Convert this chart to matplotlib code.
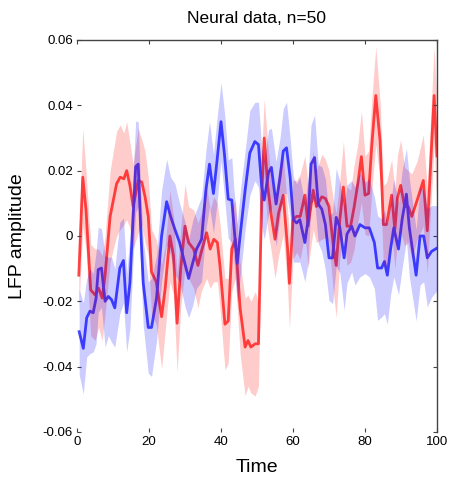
import matplotlib
matplotlib.use("Agg")
import matplotlib.pyplot as plt
import numpy as np

plt.rcParams['font.family'] = ['Liberation Sans', 'DejaVu Sans']

title = "Neural data, n=50"
xlabel = "Time"
ylabel = "LFP amplitude"
xticks = [0, 20, 40, 60, 80, 100]
yticks = [-0.06, -0.04, -0.02, 0, 0.02, 0.04, 0.06]
yticklabels = ["-0.06", "-0.04", "-0.02", "0", "0.02", "0.04", "0.06"]

red_t = [0.5, 1.6, 2.5, 3.8, 5, 6, 7, 7.8, 9.2, 11,
         12, 13, 13.8, 14.7, 15.6, 17, 18, 18.9, 19.8, 20.7,
         22, 23.5, 24.5, 25.8, 26.8, 27.8, 28.8, 30, 31, 32.4,
         33.6, 34.5, 36, 37, 38, 39, 39.7, 41.1, 42, 43,
         44, 45.3, 46.7, 47.5, 48.3, 49.5, 50.4, 51.3, 52, 53,
         54, 55, 56, 57.3, 58.5, 59, 60, 61, 62, 63.3,
         64.2, 65.6, 66.5, 68, 69, 70, 71.2, 72, 73, 74,
         75, 76, 77, 78, 79, 80, 81, 81.9, 83, 84.2,
         85.1, 86, 87.4, 88.3, 89, 89.9, 91, 92, 93, 94.5,
         96.2, 97.3, 99.2, 100]
red_y = [-0.012, 0.018, 0.008, -0.0165, -0.018, -0.016, -0.019, -0.012, 0.006, 0.016,
         0.018, 0.0175, 0.020, 0.0155, 0.009, 0.017, 0.0165, 0.012, 0.006, -0.011,
         -0.014, -0.0247, -0.016, 0.0, -0.006, -0.0267, -0.010, 0.003, -0.002, -0.004,
         -0.009, -0.005, 0.001, -0.004, -0.001, -0.002, -0.009, -0.027, -0.026, -0.004,
         -0.001, -0.022, -0.034, -0.032, -0.034, -0.033, -0.033, 0.012, 0.030, 0.015,
         0.006, -0.001, 0.007, 0.0125, -0.004, -0.0145, 0.005, 0.006, 0.006, 0.0125,
         0.003, 0.014, 0.009, 0.012, 0.0115, 0.009, -0.003, -0.009, 0.005, 0.015,
         0.003, 0.003, 0.009, 0.016, 0.0243, 0.0125, 0.013, 0.028, 0.043, 0.029,
         0.0035, 0.0035, 0.0125, 0.002, 0.0116, 0.0155, 0.009, 0.009, 0.006, 0.011,
         0.017, 0.0016, 0.043, 0.0245]
red_err = [0.011, 0.015, 0.012, 0.014, 0.014, 0.012, 0.013, 0.012, 0.014, 0.016,
           0.016, 0.014, 0.015, 0.013, 0.013, 0.016, 0.013, 0.014, 0.012, 0.013,
           0.013, 0.016, 0.013, 0.014, 0.012, 0.015, 0.012, 0.013, 0.011, 0.012,
           0.013, 0.012, 0.014, 0.012, 0.013, 0.012, 0.013, 0.014, 0.013, 0.013,
           0.012, 0.014, 0.015, 0.014, 0.014, 0.016, 0.013, 0.013, 0.012, 0.013,
           0.011, 0.012, 0.013, 0.012, 0.012, 0.014, 0.012, 0.011, 0.013, 0.012,
           0.013, 0.012, 0.011, 0.013, 0.012, 0.011, 0.014, 0.016, 0.012, 0.014,
           0.012, 0.011, 0.013, 0.012, 0.014, 0.012, 0.013, 0.014, 0.015, 0.012,
           0.012, 0.013, 0.011, 0.012, 0.013, 0.014, 0.012, 0.011, 0.013, 0.012,
           0.014, 0.013, 0.015, 0.016]

blue_t = [0.6, 1.75, 2.7, 3.6, 4.5, 5.3, 5.9, 6.8, 7.8, 8.7,
          9.6, 10.5, 11.9, 12.9, 13.8, 14.7, 15.6, 16.3, 17, 17.7,
          18.4, 19.8, 20.7, 22.1, 23.5, 24.9, 26, 27.2, 28.5, 30,
          31, 32.2, 33.2, 34.6, 35.8, 36.8, 37.9, 38.8, 40, 41,
          42, 43, 43.6, 44.5, 45.5, 46.7, 48, 49.4, 50.4, 51.3,
          52, 53.2, 54, 55.3, 56.4, 57.3, 58.2, 59.2, 60.1, 61,
          61.9, 63.3, 64.2, 65, 66, 67, 68, 69, 70, 71,
          72, 73, 74.2, 75, 76.3, 77.2, 78.6, 80, 81.2, 82.6,
          83.5, 84.6, 85.4, 86.2, 87.1, 88, 89.3, 90.3, 91.5, 92.3,
          94.2, 95.3, 96.3, 97.3, 98.5, 100]
blue_y = [-0.0293, -0.0344, -0.025, -0.023, -0.0235, -0.019, -0.0103, -0.0098, -0.020, -0.0185,
          -0.0195, -0.022, -0.0098, -0.0075, -0.0235, -0.0144, 0.006, 0.0212, 0.022, 0.002,
          -0.0144, -0.028, -0.028, -0.019, 0.0, 0.0105, 0.006, 0.002, -0.002, -0.0086,
          -0.013, -0.008, -0.004, -0.001, 0.014, 0.022, 0.013, 0.022, 0.035, 0.0245,
          0.0113, 0.011, 0.003, -0.0084, 0.002, 0.014, 0.0254, 0.0289, 0.028, 0.0151,
          0.011, 0.0195, 0.021, 0.0098, 0.018, 0.026, 0.027, 0.018, 0.005, 0.004,
          0.005, -0.002, 0.005, 0.022, 0.024, 0.0098, 0.0082, 0.0035, -0.0067, -0.0067,
          0.0057, 0.0027, -0.0067, 0.0006, 0.003, 0.0, 0.0035, 0.0025, 0.0025, -0.002,
          -0.0098, -0.0098, -0.0078, -0.012, -0.004, 0.0025, -0.004, 0.005, 0.0128, 0.0027,
          -0.012, 0.0, 0.0, -0.0067, -0.0047, -0.0037]
blue_err = [0.013, 0.014, 0.012, 0.013, 0.012, 0.014, 0.013, 0.012, 0.014, 0.012,
            0.013, 0.012, 0.014, 0.013, 0.012, 0.014, 0.013, 0.014, 0.013, 0.012,
            0.013, 0.014, 0.015, 0.013, 0.014, 0.013, 0.012, 0.014, 0.012, 0.013,
            0.012, 0.013, 0.012, 0.013, 0.012, 0.013, 0.012, 0.013, 0.012, 0.013,
            0.012, 0.013, 0.011, 0.012, 0.013, 0.012, 0.013, 0.012, 0.013, 0.012,
            0.012, 0.013, 0.012, 0.013, 0.012, 0.013, 0.014, 0.012, 0.013, 0.012,
            0.013, 0.012, 0.013, 0.012, 0.013, 0.012, 0.013, 0.014, 0.013, 0.014,
            0.015, 0.014, 0.016, 0.015, 0.014, 0.015, 0.016, 0.014, 0.015, 0.014,
            0.016, 0.015, 0.016, 0.015, 0.014, 0.015, 0.014, 0.015, 0.014, 0.015,
            0.014, 0.015, 0.014, 0.015, 0.014, 0.013]

fig = plt.figure(figsize=(4.52, 4.80), dpi=100)
ax = fig.add_axes([77/452, 1-432/480, 360/452, 392/480])

rt = np.array(red_t); ry = np.array(red_y); re = np.array(red_err)
bt = np.array(blue_t); by = np.array(blue_y); be = np.array(blue_err)

ax.plot(rt, ry, color='#ff4a4a', lw=2.0, zorder=1, solid_joinstyle='round')
ax.plot(bt, by, color='#4a4aff', lw=2.0, zorder=1, solid_joinstyle='round')
ax.fill_between(rt, ry - re, ry + re, color=(1, 0, 0), alpha=0.2, lw=0, zorder=2)
ax.fill_between(bt, by - be, by + be, color=(0, 0, 1), alpha=0.2, lw=0, zorder=3)

ax.set_xlim(0, 100)
ax.set_ylim(-0.06, 0.06)
ax.set_xticks(xticks)
ax.set_yticks(yticks)
ax.set_yticklabels(yticklabels)
ax.tick_params(direction='in', length=3, width=0.8, color='#444444',
               labelsize=9.5, top=True, right=True, pad=3)
for s in ['left', 'bottom']:
    ax.spines[s].set_visible(False)
for s in ['top', 'right']:
    ax.spines[s].set_color('#444444')
    ax.spines[s].set_linewidth(1.0)

ax.set_title(title, fontsize=12.5, pad=12)
ax.set_xlabel(xlabel, fontsize=14, labelpad=8)
ax.set_ylabel(ylabel, fontsize=14, labelpad=12)

fig.savefig("out.png", dpi=100)
